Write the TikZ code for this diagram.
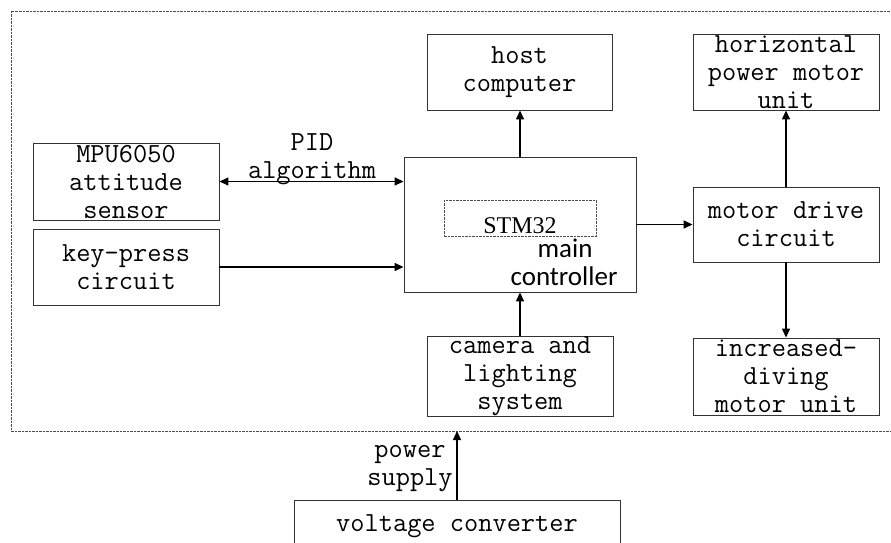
\documentclass[tikz,border=0pt]{standalone}
\usepackage{fontspec}
\newfontfamily\timesfont{Liberation Serif}
\newfontfamily\calfont{Carlito}
\usetikzlibrary{arrows.meta}
\begin{document}
\begin{tikzpicture}[x=1pt,y=-1pt,
  blk/.style={draw=black!80,line width=0.9pt,inner sep=0pt,align=center,
    font=\ttfamily\fontsize{27.6}{28}\selectfont},
  lbl/.style={inner sep=0pt,align=center,font=\ttfamily\fontsize{27.6}{28}\selectfont},
  sanslbl/.style={inner sep=0pt,anchor=base,font=\calfont\fontsize{27}{28}\selectfont},
  arr/.style={line width=1.4pt,-{Triangle[length=9pt,width=8pt]}},
  darr/.style={line width=1.4pt,{Triangle[length=9pt,width=8pt]}-{Triangle[length=9pt,width=8pt]}},
  frame/.style={draw=black!70,line width=0.8pt,dash pattern=on 2.5pt off 1pt}]
\useasboundingbox (0,0) rectangle (891,543);
\fill[white] (0,0) rectangle (891,543);

% dashed enclosure of the onboard system
\draw[frame] (900,11) -- (11,11) -- (11,431) -- (900,431);

% blocks
\node[blk,minimum width=186pt,minimum height=77pt] (mpu) at (126,181.5) {MPU6050\\attitude\\sensor};
\node[blk,minimum width=186pt,minimum height=76pt] (key) at (126,267) {key-press\\circuit};
\node[blk,minimum width=232pt,minimum height=135pt] (main) at (520,224.5) {};
\node[draw=black!70,line width=0.8pt,dash pattern=on 2.5pt off 1pt,inner sep=0pt,
  minimum width=152pt,minimum height=36pt] (stm) at (520,218) {};
\node[inner sep=0pt,font=\timesfont\fontsize{24}{28}\selectfont] (stmtxt) at (520,226) {STM32};
\node[sanslbl] (maintxt) at (565,257.5) {main};
\node[sanslbl] (ctrltxt) at (564,285) {controller};
\node[blk,minimum width=185pt,minimum height=76pt] (host) at (519.5,72) {host\\computer};
\node[blk,minimum width=186pt,minimum height=76pt] (horiz) at (786,72) {horizontal\\power motor\\unit};
\node[blk,minimum width=186pt,minimum height=75pt] (drive) at (786,224.5) {motor drive\\circuit};
\node[blk,minimum width=186pt,minimum height=77pt] (dive) at (786,376.5) {increased-\\diving\\motor unit};
\node[blk,minimum width=186pt,minimum height=77pt] (cam) at (520,376.5) {camera and\\lighting\\system};
\node[blk,minimum width=326pt,minimum height=52pt] (volt) at (457,526) {voltage converter};

% labels
\node[lbl] (pid) at (312,159) {PID\\algorithm};
\node[lbl] (pwr) at (410,469) {power\\supply};

% connectors
\coordinate (frameb) at (457,431);
\draw[darr] (mpu.east) -- (mpu.east -| main.west);
\draw[arr] (key.east) -- (key.east -| main.west);
\draw[arr] (main.north) -- (main.north |- host.south);
\draw[arr] (cam.north) -- (cam.north |- main.south);
\draw[arr] (main.east) -- (drive.west);
\draw[arr] (drive.north) -- (horiz.south);
\draw[arr] (drive.south) -- (dive.north);
\draw[arr] (volt.north) -- (frameb);
\end{tikzpicture}
\end{document}
